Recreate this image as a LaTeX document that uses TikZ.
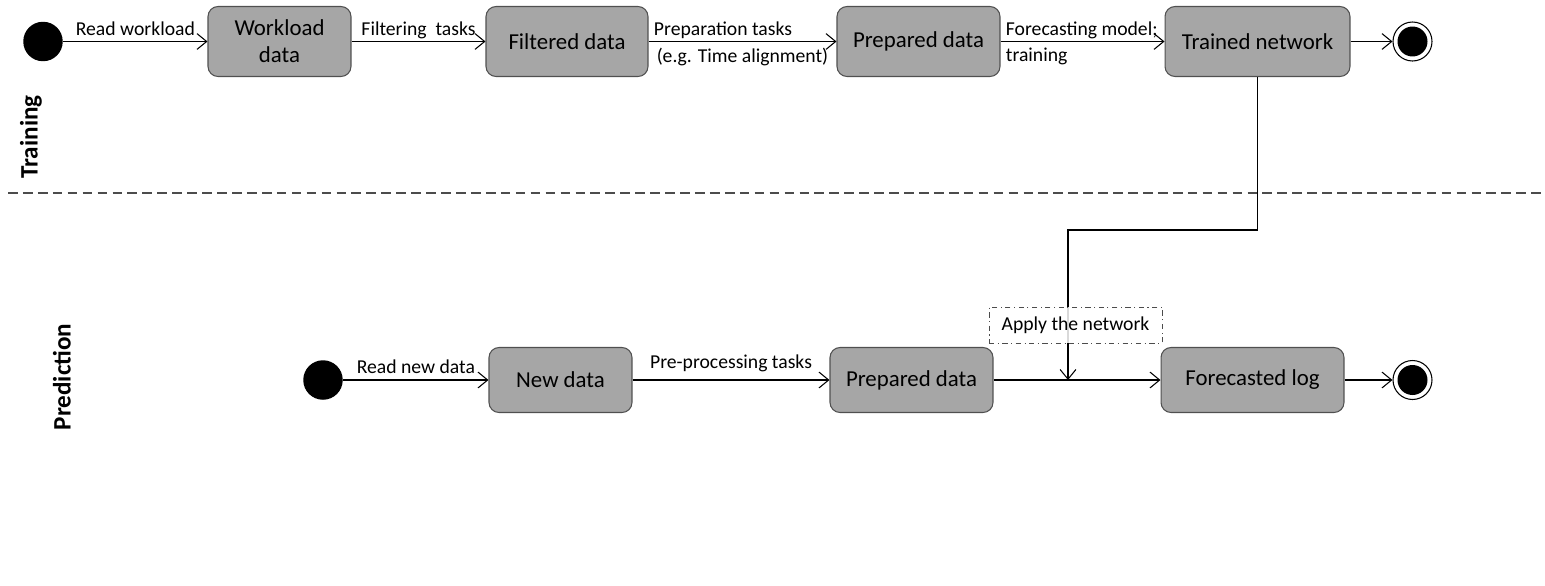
\documentclass[tikz,border=0pt]{standalone}
\usepackage{fontspec}
\setmainfont{Carlito}
\usepackage{tikz}
\usetikzlibrary{arrows.meta}

\definecolor{boxfill}{HTML}{A6A6A6}
\definecolor{boxedge}{HTML}{505050}

\tikzset{
  activity/.style={draw=boxedge, fill=boxfill, rounded corners=0.2cm,
    align=center, font=\fontsize{13}{15.3}\selectfont, inner sep=2pt},
  initial/.style={circle, fill=black, inner sep=0pt, minimum size=0.79cm},
  final/.style={circle, draw=black, inner sep=0pt, minimum size=0.78cm,
    path picture={\fill[black] (path picture bounding box.center) circle (0.3cm);}},
  applybox/.style={draw=black!70, dash dot, line width=0.5pt, fill=white,
    fill opacity=0.85, text opacity=1, minimum width=3.46cm, minimum height=0.72cm},
  lane/.style={rotate=90, font=\fontsize{14.3}{16}\bfseries\selectfont},
  sepline/.style={draw=black!70, dash pattern=on 5.5pt off 3pt, line width=0.6pt},
  uplbl/.style={above, inner xsep=2.8pt, inner ysep=1.2pt, text depth=0.2em},
  downlbl/.style={below, inner xsep=2.8pt, inner ysep=3.5pt},
}

\begin{document}
\begin{tikzpicture}[x=0.02cm, y=-0.02cm, line width=0.6pt,
    >={Straight Barb[length=5.5pt,width=9pt]},
    font=\fontsize{11.2}{13}\selectfont]
  \useasboundingbox (0,0) rectangle (1545,585);

  % training lane
  \node[initial] (init1) at (43,41.5) {};
  \node[activity, minimum width=2.86cm, minimum height=1.4cm] (wdata) at (279.5,41.5) {Workload\\data};
  \node[activity, minimum width=3.24cm, minimum height=1.4cm] (fdata) at (567,41.5) {Filtered data};
  \node[activity, minimum width=3.26cm, minimum height=1.4cm] (pdata) at (918.5,41.5) {Prepared data};
  \node[activity, minimum width=3.7cm, minimum height=1.4cm] (tnet) at (1257.5,41.5) {Trained network};
  \node[final] (end1) at (1412.5,41.5) {};

  \draw[->] (init1) -- node[uplbl] {Read workload} (wdata);
  \draw[->] (wdata) -- node[uplbl] {Filtering\ \ tasks} (fdata);
  \draw[->] (fdata) -- node[uplbl, pos=0, anchor=south west] {Preparation tasks}
    node[downlbl] {(e.g. Time alignment)} (pdata);
  \draw[->] (pdata) -- node[uplbl, pos=0, anchor=south west] {Forecasting model;}
    node[downlbl, pos=0, anchor=north west] {training} (tnet);
  \draw[->] (tnet) -- (end1);

  % separator
  \draw[sepline] (8,193) -- (1545,193);
  \node[lane] (ltrain) at (31,137) {Training};
  \node[lane] (lpred) at (62,377) {Prediction};

  % prediction lane
  \node[initial] (init2) at (323,380) {};
  \node[activity, minimum width=2.86cm, minimum height=1.3cm] (ndata) at (560.5,380) {New data};
  \node[activity, minimum width=3.26cm, minimum height=1.3cm] (pdata2) at (911.5,380) {Prepared data};
  \node[activity, minimum width=3.66cm, minimum height=1.3cm] (flog) at (1252.5,380) {Forecasted log};
  \node[final] (end2) at (1412.5,380) {};

  \draw[->] (init2) -- node[uplbl] {Read new data} (ndata);
  \draw[->] (ndata) -- node[uplbl, yshift=3pt] {Pre-processing tasks} (pdata2);
  \draw[->] (pdata2) -- (flog);
  \draw[->] (flog) -- (end2);

  % apply the trained network
  \coordinate (bend) at (1068,230);
  \coordinate (join) at (1068,380);
  \draw[->] (tnet) |- (bend) -- (join);
  \node[applybox] (apply) at (1075.5,325) {Apply the network};
\end{tikzpicture}
\end{document}
